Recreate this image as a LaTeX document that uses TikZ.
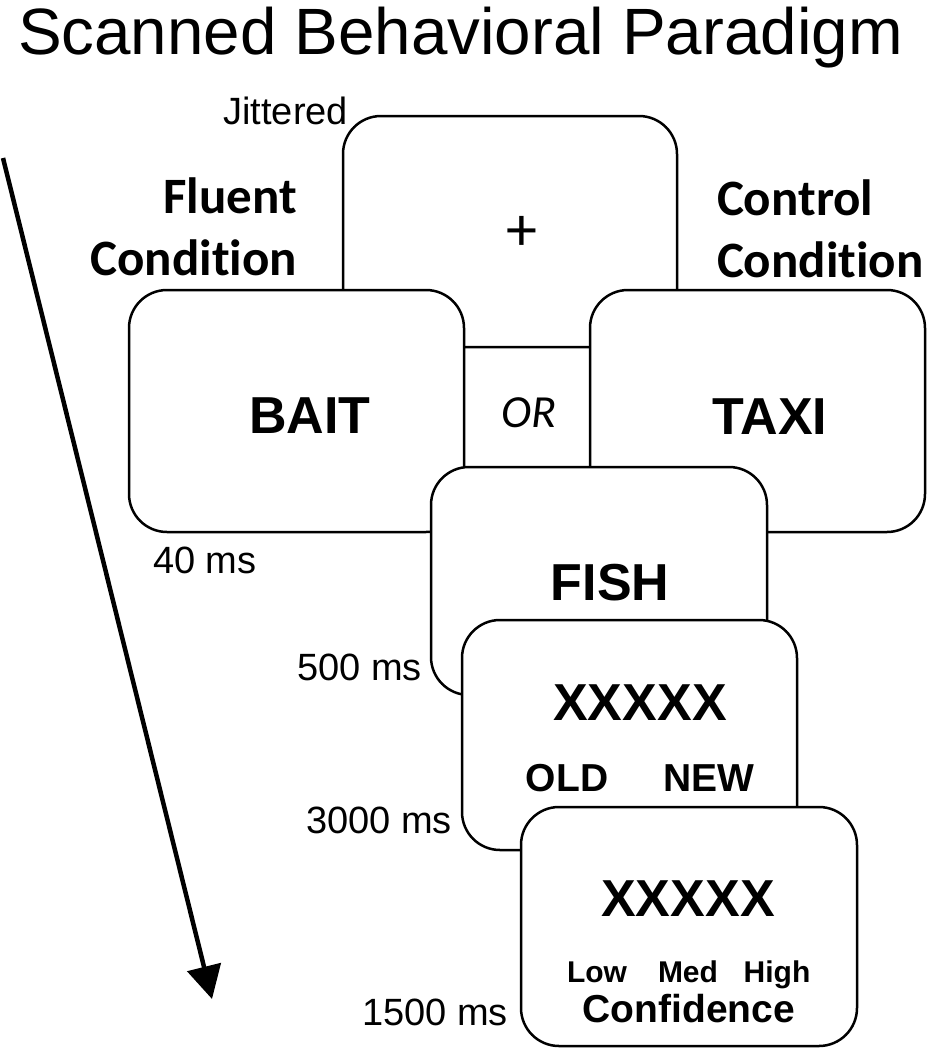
\documentclass[tikz,border=0pt]{standalone}
\usepackage{fontspec}
\setmainfont{Liberation Sans}
\newfontfamily\calibfont[Ligatures=NoCommon]{Carlito}
\usetikzlibrary{arrows.meta}
\newcommand{\fsz}[1]{\fontsize{#1}{#1}\selectfont}
\begin{document}
\begin{tikzpicture}[x=1pt,y=-1pt,
  screen/.style={draw, line width=2.5pt, fill=white, rounded corners=38pt, rectangle, inner sep=0pt, outer sep=0pt},
  txt/.style={inner sep=0pt, outer sep=0pt},
  plain/.style={txt, font=\fsz{38}},
  bigword/.style={txt, font=\fsz{52}\bfseries},
  cond/.style={txt, font=\calibfont\fsz{51}\bfseries}]
\useasboundingbox (0,0) rectangle (927,1050);
% title
\node[txt, anchor=base west, font=\fsz{65.5}] (title) at (18,54) {Scanned Behavioral Paradigm};
% time arrow
\coordinate (ts) at (3,158);
\coordinate (te) at (212,999);
\draw[line width=4.5pt, -{Triangle[width=34pt,length=33pt]}] (ts) -- (te);
% screens
\node[screen, minimum width=334pt, minimum height=231pt] (jit) at (510,231.5) {};
\node[screen, minimum width=335pt, minimum height=242pt] (bait) at (296.5,411) {};
\node[screen, minimum width=335pt, minimum height=242pt] (taxi) at (757.5,411) {};
\node[screen, minimum width=336pt, minimum height=228pt] (fish) at (599,581) {};
\node[screen, minimum width=335pt, minimum height=230pt] (oldnew) at (629.5,735) {};
\node[screen, minimum width=336pt, minimum height=239pt] (conf) at (689,926.5) {};
% labels
\node[plain, anchor=east] (jitl) at (348,111) {Jittered};
\node[cond, anchor=base east] (flu1) at (297,213) {Fluent};
\node[cond, anchor=base east] (flu2) at (297,275) {Condition};
\node[cond, anchor=base west] (con1) at (717,215) {Control};
\node[cond, anchor=base west] (con2) at (717,277) {Condition};
\node[txt, font=\calibfont\fsz{62}] (plus) at (522,233) {+};
\node[txt, font=\calibfont\fsz{46}\itshape] (or) at (529,413) {OR};
\node[bigword] (baitw) at (310,416) {BAIT};
\node[bigword] (taxiw) at (770,417) {TAXI};
\node[plain, anchor=west] (t40) at (153,560) {40 ms};
\node[bigword] (fishw) at (610,583) {FISH};
\node[plain, anchor=east] (t500) at (422,667) {500 ms};
\node[bigword] (x1) at (640,703) {XXXXX};
\node[txt, font=\fsz{39}\bfseries] (old) at (567,778) {OLD};
\node[txt, font=\fsz{39}\bfseries] (new) at (709,778) {NEW};
\node[plain, anchor=east] (t3000) at (452,820) {3000 ms};
\node[bigword] (x2) at (688,899) {XXXXX};
\node[txt, font=\fsz{30}\bfseries, anchor=base] (low) at (597,982) {Low};
\node[txt, font=\fsz{30}\bfseries, anchor=base] (med) at (688,982) {Med};
\node[txt, font=\fsz{30}\bfseries, anchor=base] (high) at (777,982) {High};
\node[txt, font=\fsz{39}\bfseries, anchor=base] (confw) at (689,1022) {Confidence};
\node[plain, anchor=east] (t1500) at (508,1012) {1500 ms};
\end{tikzpicture}
\end{document}
